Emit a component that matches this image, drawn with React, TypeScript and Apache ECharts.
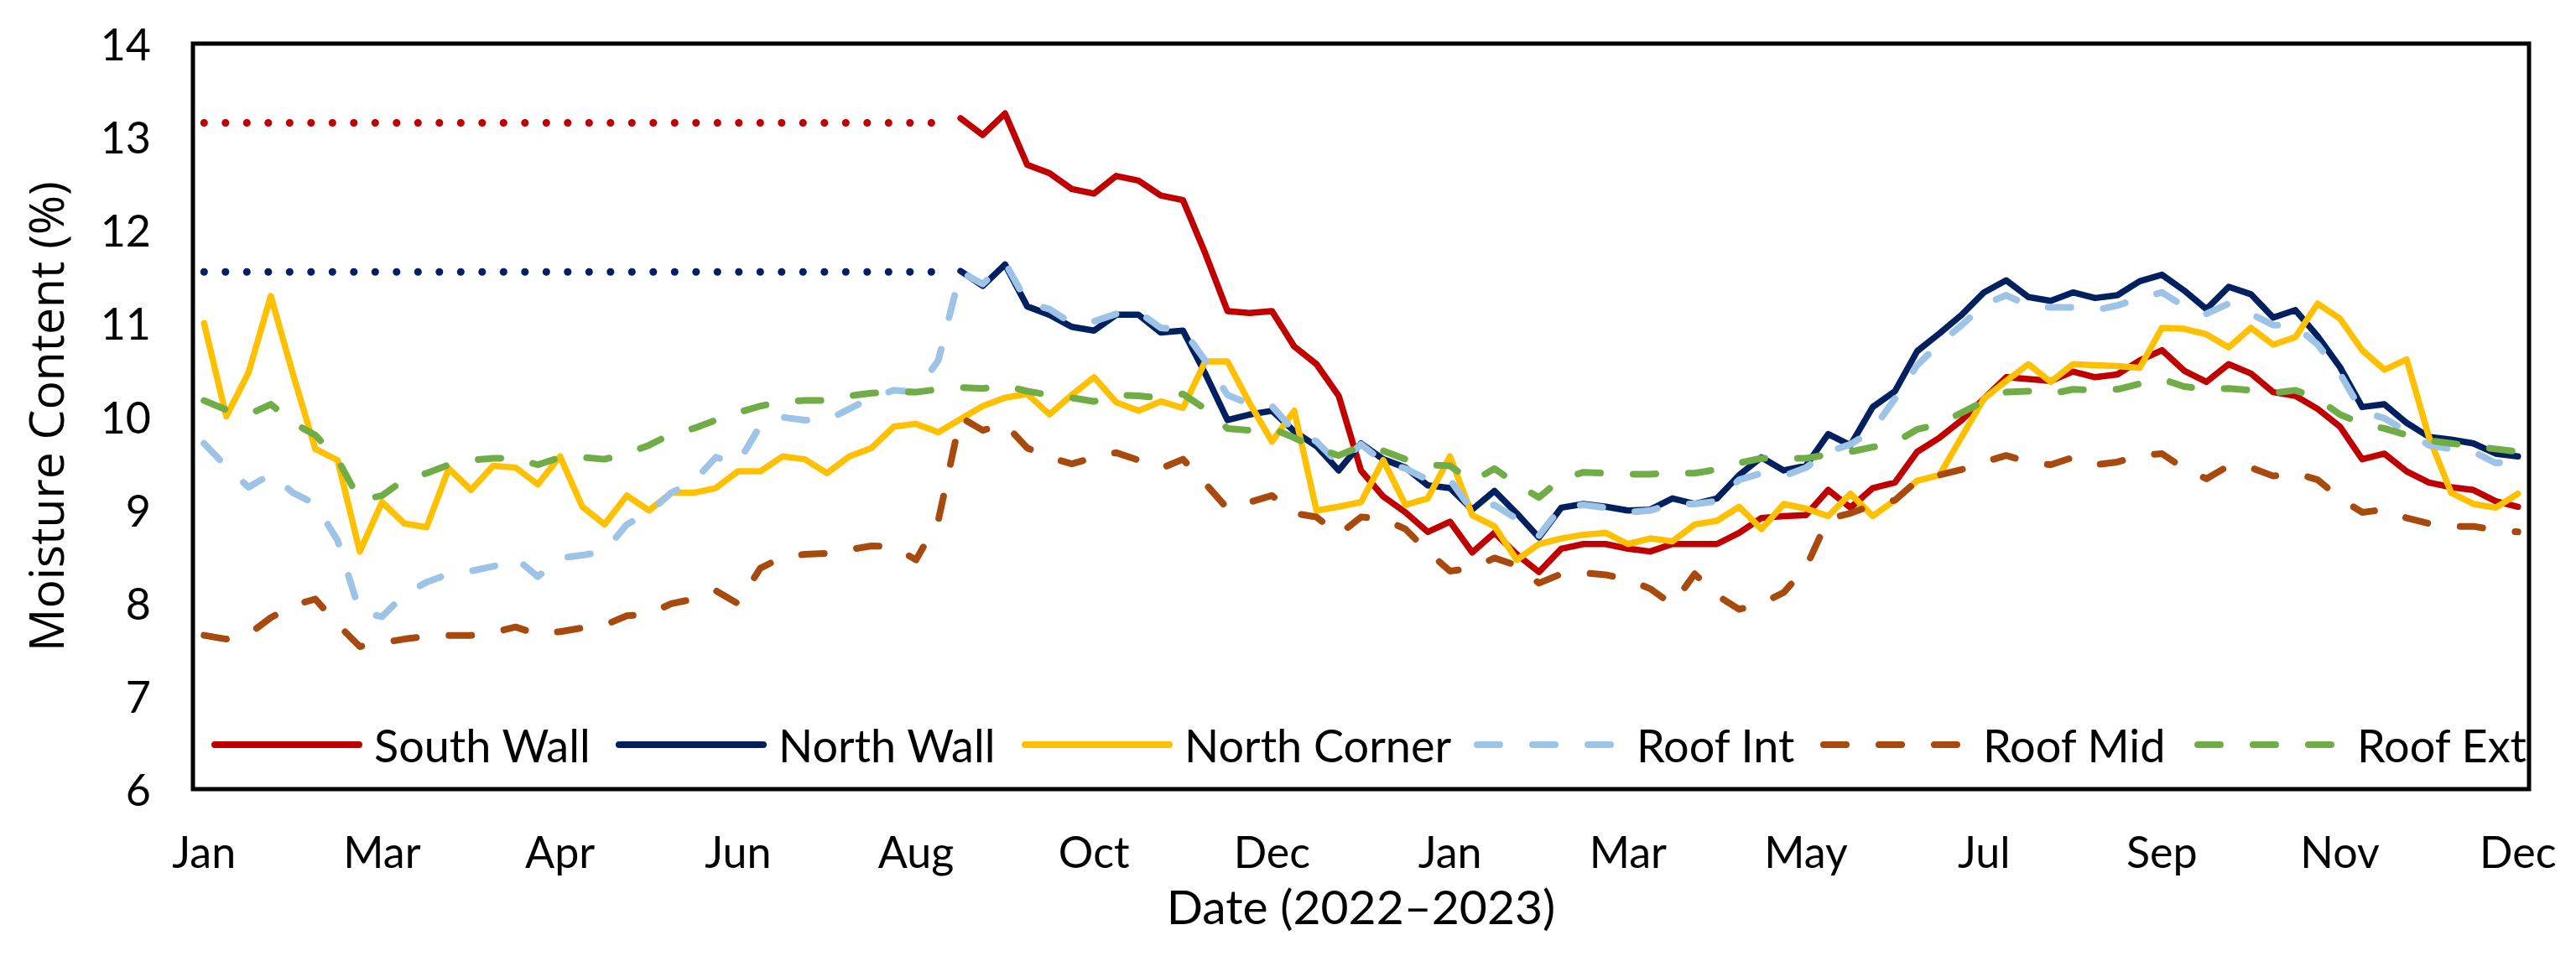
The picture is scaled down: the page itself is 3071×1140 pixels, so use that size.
import React, { useEffect, useRef } from "react";
import * as echarts from "echarts";

// ---- Categories (weekly readings, Jan 2022 – Dec 2023) ----
const categories: string[] = Array.from({ length: 105 }, (_, i) => `Week ${i + 1}`);
const tickLabels = ["Jan", "Mar", "Apr", "Jun", "Aug", "Oct", "Dec", "Jan", "Mar", "May", "Jul", "Sep", "Nov", "Dec"];
const LABEL_EVERY = 8;

// ---- Assumed (dotted) levels before the wall sensors started ----
const southWallAssumed: [number, number][] = [[0, 13.15], [33, 13.15]];
const northWallAssumed: [number, number][] = [[0, 11.55], [33, 11.55]];

// ---- Series values (moisture content, %) ----
const southWall: (number | null)[] = [
  null, null, null, null, null, null, null, null, null, null,
  null, null, null, null, null, null, null, null, null, null,
  null, null, null, null, null, null, null, null, null, null,
  null, null, null, null,
  13.20, 13.02, 13.25, 12.70, 12.61, 12.44, 12.39, 12.58, 12.53, 12.37,
  12.32, 11.75, 11.13, 11.11, 11.13, 10.75, 10.56, 10.22, 9.42, 9.14,
  8.97, 8.76, 8.87, 8.54, 8.75, 8.52, 8.33, 8.58, 8.63, 8.63,
  8.58, 8.55, 8.63, 8.63, 8.63, 8.75, 8.91, 8.93, 8.94, 9.21,
  9.02, 9.23, 9.29, 9.62, 9.77, 9.96, 10.19, 10.42, 10.40, 10.38,
  10.48, 10.42, 10.45, 10.60, 10.71, 10.49, 10.37, 10.56, 10.46, 10.26,
  10.22, 10.08, 9.89, 9.54, 9.60, 9.41, 9.29, 9.24, 9.21, 9.09,
  9.03,
];

const northWall: (number | null)[] = [
  null, null, null, null, null, null, null, null, null, null,
  null, null, null, null, null, null, null, null, null, null,
  null, null, null, null, null, null, null, null, null, null,
  null, null, null, null,
  11.56, 11.40, 11.63, 11.18, 11.09, 10.96, 10.92, 11.09, 11.09, 10.90,
  10.92, 10.46, 9.96, 10.02, 10.06, 9.84, 9.68, 9.42, 9.71, 9.54,
  9.45, 9.26, 9.23, 9.00, 9.20, 8.96, 8.70, 9.02, 9.06, 9.03,
  8.99, 9.00, 9.12, 9.06, 9.12, 9.37, 9.56, 9.42, 9.47, 9.81,
  9.69, 10.10, 10.27, 10.70, 10.89, 11.09, 11.33, 11.46, 11.28, 11.24,
  11.33, 11.27, 11.30, 11.45, 11.52, 11.35, 11.15, 11.39, 11.31, 11.06,
  11.14, 10.86, 10.53, 10.10, 10.13, 9.93, 9.78, 9.75, 9.71, 9.60,
  9.57,
];

const northCorner: number[] = [
  11.00, 10.00, 10.47, 11.29, 10.45, 9.65, 9.53, 8.55, 9.08, 8.85,
  8.81, 9.44, 9.21, 9.47, 9.45, 9.27, 9.57, 9.03, 8.84, 9.15,
  8.99, 9.18, 9.18, 9.23, 9.41, 9.41, 9.57, 9.54, 9.39, 9.57,
  9.66, 9.89, 9.92, 9.83, 9.97, 10.11, 10.20, 10.24, 10.02, 10.23,
  10.42, 10.15, 10.06, 10.16, 10.09, 10.59, 10.59, 10.14, 9.73, 10.06,
  8.99, 9.03, 9.08, 9.53, 9.05, 9.12, 9.57, 8.94, 8.82, 8.46,
  8.63, 8.69, 8.73, 8.75, 8.63, 8.69, 8.66, 8.84, 8.88, 9.03,
  8.79, 9.06, 9.01, 8.93, 9.17, 8.93, 9.10, 9.31, 9.37, 9.78,
  10.19, 10.38, 10.56, 10.37, 10.56, 10.55, 10.54, 10.52, 10.95, 10.94,
  10.88, 10.74, 10.95, 10.77, 10.85, 11.21, 11.05, 10.71, 10.50, 10.61,
  9.78, 9.18, 9.06, 9.02, 9.17,
];

const roofInt: number[] = [
  9.71, 9.46, 9.24, 9.38, 9.18, 9.06, 8.67, 7.90, 7.85, 8.09,
  8.22, 8.31, 8.34, 8.39, 8.48, 8.28, 8.48, 8.51, 8.55, 8.84,
  8.97, 9.18, 9.30, 9.56, 9.50, 9.90, 9.99, 9.96, 9.96, 10.08,
  10.20, 10.28, 10.26, 10.60, 11.55, 11.42, 11.65, 11.22, 11.15, 11.00,
  11.02, 11.10, 11.12, 10.95, 10.93, 10.60, 10.23, 10.13, 10.11, 9.84,
  9.73, 9.49, 9.70, 9.51, 9.44, 9.32, 9.32, 8.99, 9.05, 8.90,
  8.72, 9.03, 9.05, 9.02, 8.97, 8.99, 9.06, 9.06, 9.09, 9.32,
  9.39, 9.36, 9.45, 9.62, 9.70, 9.85, 10.19, 10.55, 10.78, 10.98,
  11.20, 11.30, 11.19, 11.17, 11.17, 11.14, 11.19, 11.27, 11.33, 11.18,
  11.10, 11.21, 11.10, 10.98, 10.97, 10.77, 10.46, 10.05, 9.98, 9.84,
  9.69, 9.65, 9.62, 9.50, 9.52,
];

const roofMid: number[] = [
  7.65, 7.61, 7.66, 7.84, 7.97, 8.04, 7.77, 7.53, 7.57, 7.61,
  7.64, 7.65, 7.65, 7.68, 7.74, 7.66, 7.69, 7.73, 7.76, 7.86,
  7.88, 7.99, 8.04, 8.13, 7.99, 8.37, 8.49, 8.52, 8.53, 8.57,
  8.61, 8.60, 8.46, 8.88, 9.99, 9.85, 9.92, 9.66, 9.56, 9.49,
  9.56, 9.61, 9.53, 9.44, 9.54, 9.28, 9.01, 9.08, 9.15, 8.96,
  8.92, 8.73, 8.92, 8.90, 8.79, 8.55, 8.34, 8.37, 8.48, 8.40,
  8.21, 8.31, 8.32, 8.30, 8.25, 8.15, 7.98, 8.31, 8.08, 7.93,
  7.99, 8.11, 8.38, 8.90, 8.96, 9.05, 9.10, 9.31, 9.37, 9.43,
  9.51, 9.58, 9.51, 9.48, 9.56, 9.48, 9.51, 9.58, 9.60, 9.44,
  9.33, 9.47, 9.45, 9.36, 9.39, 9.32, 9.12, 8.97, 9.00, 8.91,
  8.85, 8.82, 8.82, 8.78, 8.76,
];

const roofExt: number[] = [
  10.17, 10.07, 10.02, 10.13, 9.93, 9.80, 9.54, 9.10, 9.15, 9.32,
  9.39, 9.48, 9.53, 9.55, 9.55, 9.48, 9.56, 9.56, 9.54, 9.60,
  9.69, 9.81, 9.87, 9.96, 10.04, 10.11, 10.16, 10.17, 10.17, 10.22,
  10.25, 10.26, 10.26, 10.29, 10.31, 10.30, 10.33, 10.27, 10.23, 10.20,
  10.16, 10.23, 10.22, 10.20, 10.24, 10.08, 9.87, 9.85, 9.87, 9.77,
  9.66, 9.58, 9.68, 9.63, 9.54, 9.48, 9.47, 9.30, 9.44, 9.27,
  9.13, 9.33, 9.40, 9.39, 9.38, 9.38, 9.39, 9.39, 9.43, 9.50,
  9.55, 9.55, 9.55, 9.59, 9.62, 9.67, 9.72, 9.86, 9.92, 10.04,
  10.16, 10.26, 10.27, 10.24, 10.29, 10.28, 10.29, 10.35, 10.40, 10.32,
  10.29, 10.30, 10.28, 10.25, 10.28, 10.19, 10.02, 9.92, 9.87, 9.80,
  9.74, 9.71, 9.68, 9.65, 9.62,
];

const seriesNames = ["South Wall", "North Wall", "North Corner", "Roof Int", "Roof Mid", "Roof Ext"];
const seriesColors = ["#C00000", "#002060", "#FFC000", "#9DC3E6", "#A8490E", "#70AD47"];
const legendLefts = [252, 734, 1218, 1757, 2170, 2616];

const DASH = [27, 39];
const DOT = [0.1, 25.4];

function solidLine(name: string, data: any[], color: string) {
  return {
    name,
    type: "line",
    data,
    symbol: "none",
    showSymbol: false,
    lineStyle: { color, width: 7.5, join: "round", cap: "round" },
    itemStyle: { color },
    emphasis: { disabled: true },
  };
}

function dashedLine(name: string, data: any[], color: string) {
  return {
    name,
    type: "line",
    data,
    symbol: "none",
    showSymbol: false,
    lineStyle: { color, width: 8, type: DASH, join: "round", cap: "round" },
    itemStyle: { color },
    emphasis: { disabled: true },
  };
}

function dottedLine(name: string, data: any[], color: string) {
  return {
    name,
    type: "line",
    data,
    symbol: "none",
    showSymbol: false,
    lineStyle: { color, width: 9, type: DOT, cap: "round" },
    itemStyle: { color },
    emphasis: { disabled: true },
  };
}

export default function App() {
  const ref = useRef<HTMLDivElement>(null);

  useEffect(() => {
    if (!ref.current) return;
    const chart = echarts.init(ref.current, undefined, { renderer: "svg" });

    const option: any = {
      animation: false,
      backgroundColor: "#ffffff",
      grid: {
        left: 230,
        right: 56,
        top: 52,
        bottom: 199,
        show: true,
        borderColor: "#000000",
        borderWidth: 5,
        backgroundColor: "transparent",
      },
      legend: seriesNames.map((n, k) => ({
        data: [n],
        left: legendLefts[k],
        top: 861,
        padding: 0,
        itemWidth: 172,
        itemHeight: 20,
        selectedMode: false,
        itemStyle: { opacity: 0, borderWidth: 0 },
        lineStyle: { width: 8 },
        textStyle: {
          fontFamily: "Lato",
          fontSize: 54,
          color: "#000000",
          padding: [0, 0, 0, 13],
        },
      })),
      xAxis: {
        type: "category",
        data: categories,
        boundaryGap: true,
        axisLine: { show: false },
        axisTick: { show: false },
        splitLine: { show: false },
        axisLabel: {
          interval: LABEL_EVERY - 1,
          formatter: (value: string) => {
            const idx = categories.indexOf(value);
            return idx % LABEL_EVERY === 0 ? tickLabels[idx / LABEL_EVERY] ?? "" : "";
          },
          fontFamily: "Lato",
          fontSize: 52,
          color: "#000000",
          margin: 48,
        },
        name: "Date (2022–2023)",
        nameLocation: "middle",
        nameGap: 110,
        nameTextStyle: { fontFamily: "Lato", fontSize: 57, color: "#000000" },
      },
      yAxis: {
        type: "value",
        min: 6,
        max: 14,
        interval: 1,
        axisLine: { show: false },
        axisTick: { show: false },
        splitLine: { show: false },
        axisLabel: {
          fontFamily: "Lato",
          fontSize: 52,
          color: "#000000",
          margin: 50,
        },
        name: "Moisture Content (%)",
        nameLocation: "middle",
        nameGap: 148,
        nameTextStyle: { fontFamily: "Open Sans", fontSize: 57, color: "#000000" },
      },
      series: [
        dottedLine("South Wall (assumed)", southWallAssumed, seriesColors[0]),
        dottedLine("North Wall (assumed)", northWallAssumed, seriesColors[1]),
        solidLine(seriesNames[0], southWall, seriesColors[0]),
        solidLine(seriesNames[1], northWall, seriesColors[1]),
        solidLine(seriesNames[2], northCorner, seriesColors[2]),
        dashedLine(seriesNames[3], roofInt, seriesColors[3]),
        dashedLine(seriesNames[4], roofMid, seriesColors[4]),
        dashedLine(seriesNames[5], roofExt, seriesColors[5]),
      ],
    };

    chart.setOption(option);
    return () => {
      chart.dispose();
    };
  }, []);

  return (
    <div
      ref={ref}
      style={{
        position: "fixed",
        left: 0,
        top: 0,
        width: 3071,
        height: 1140,
        background: "#ffffff",
      }}
    />
  );
}
